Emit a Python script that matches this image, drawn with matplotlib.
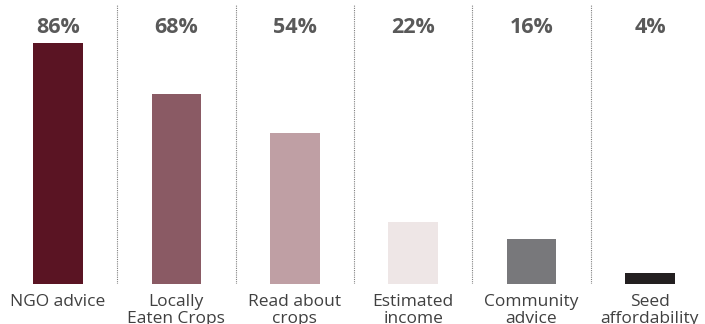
import matplotlib.pyplot as plt

# === Data ===
categories = ["NGO advice", "Locally\nEaten Crops", "Read about\ncrops",
              "Estimated\nincome", "Community\nadvice", "Seed\naffordability"]
values = [86, 68, 54, 22, 16, 4]
colors = ["#5A1423", "#8A5A64", "#BF9FA4", "#EEE6E6", "#78787B", "#231F20"]

plt.rcParams['font.family'] = ['Open Sans', 'DejaVu Sans']

fig = plt.figure(figsize=(7.05, 3.24), dpi=100)
ax = fig.add_axes([0, 40 / 324, 1, 284 / 324])

x = list(range(len(categories)))
ax.bar(x, values, width=0.42, color=colors)

# labels across the top, all on one line
for xi, v in zip(x, values):
    ax.text(xi, 91.6, f"{v}%", ha='center', va='center', fontsize=15.5,
            fontweight='bold', color='#595959')

# category names below the baseline
for xi, c in zip(x, categories):
    ax.text(xi, -3.6, c, ha='center', va='top', fontsize=12.5,
            color='#404040', linespacing=1.08, clip_on=False)

# dotted separators between bars
for xi in x[:-1]:
    ax.plot([xi + 0.5, xi + 0.5], [0, 99.6], color='#808080',
            linestyle=(0, (1, 1)), linewidth=0.8)

ax.set_xlim(-0.49, 5.465)
ax.set_ylim(0, 101.4)
ax.axis('off')

plt.savefig("out.png", dpi=100)
